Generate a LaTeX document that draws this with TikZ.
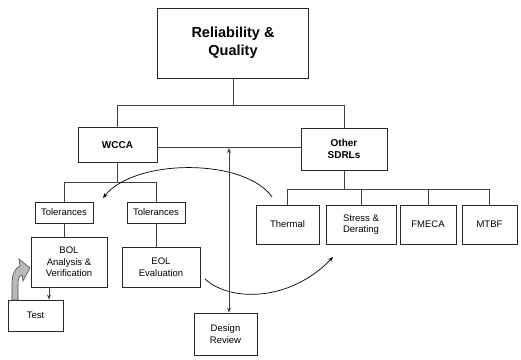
\documentclass[tikz,border=0pt]{standalone}
\usepackage{fontspec}
\setmainfont{Liberation Sans}
\usetikzlibrary{arrows.meta}
\begin{document}
\begin{tikzpicture}[x=1pt,y=-1pt,
 box/.style={draw=black!85, line width=0.8pt, fill=white, inner sep=0pt, align=center, font=\fontsize{9.5}{11.5}\selectfont},
 bbox/.style={box, font=\bfseries\fontsize{10}{12}\selectfont},
 conn/.style={draw=black!75, line width=0.8pt},
 curv/.style={draw=black, line width=0.7pt},
 tip/.style={-{Stealth[length=5pt,width=4pt]}},
 dtip/.style={{Stealth[length=5pt,width=4pt]}-{Stealth[length=5pt,width=4pt]}}
]
\useasboundingbox (0,0) rectangle (521,359);
% nodes
\node[box, font=\bfseries\fontsize{14.5}{18}\selectfont, minimum width=151pt, minimum height=70pt] (rq) at (233,43) {Reliability \&\\Quality};
\node[bbox, minimum width=79pt, minimum height=35pt] (wcca) at (117.5,145) {WCCA};
\node[bbox, minimum width=86pt, minimum height=42pt] (other) at (344,149) {Other\\SDRLs};
\node[box, minimum width=58pt, minimum height=21pt] (tol1) at (64,212.5) {Tolerances};
\node[box, minimum width=58pt, minimum height=21pt] (tol2) at (156,212.5) {Tolerances};
\node[box, minimum width=76pt, minimum height=50pt] (bol) at (69,262) {BOL\\Analysis \&\\Verification};
\node[box, minimum width=78pt, minimum height=40pt] (eol) at (161,267) {EOL\\Evaluation};
\node[box, minimum width=55pt, minimum height=31pt] (test) at (35.5,315.5) {Test};
\node[box, minimum width=63pt, minimum height=42pt] (dr) at (225.5,334) {Design\\Review};
\node[box, minimum width=63pt, minimum height=39pt] (thermal) at (287.5,224.5) {Thermal};
\node[box, minimum width=70pt, minimum height=39pt] (stress) at (361,224.5) {Stress \&\\Derating};
\node[box, minimum width=56pt, minimum height=39pt] (fmeca) at (428,224.5) {FMECA};
\node[box, minimum width=55pt, minimum height=39pt] (mtbf) at (489.5,224.5) {MTBF};
% helper coordinates
\coordinate (ya) at (0,105);
\coordinate (link) at (0,147);
\coordinate (yb) at (0,182);
\coordinate (yc) at (0,189);
\coordinate (tx) at (49,0);
\coordinate (ax) at (229,0);
\coordinate (atop) at (229,148);
% tree connectors
\draw[conn] (rq.south) -- (rq.south |- ya);
\draw[conn] (wcca.north) -- (wcca.north |- ya) -| (other.north);
\draw[conn] (wcca.east |- link) -- (other.west |- link);
\draw[conn] (wcca.south) -- (wcca.south |- yb);
\draw[conn] (tol1.north) |- (tol2.north |- yb) -- (tol2.north);
\draw[conn] (tol1.south) -- (tol1.south |- bol.north);
\draw[conn] (tol2.south) -- (tol2.south |- eol.north);
\draw[conn, tip] (bol.south -| tx) -- (test.north -| tx);
\draw[conn, dtip] (dr.north -| ax) -- (atop);
\draw[conn] (other.south) -- (other.south |- yc);
\draw[conn] (thermal.north) |- (mtbf.north |- yc) -- (mtbf.north);
\draw[conn] (stress.north) -- (stress.north |- yc);
\draw[conn] (fmeca.north) -- (fmeca.north |- yc);
% curved arrows
\coordinate (c1s) at (272,197);
\coordinate (c1e) at (103,198);
\draw[curv, tip] (c1s) .. controls (245,158) and (135,158) .. (c1e);
\coordinate (c2s) at (205,279);
\coordinate (c2e) at (333,257);
\draw[curv, tip] (c2s) .. controls (230,302) and (290,302) .. (c2e);
% gray block arrow from Test to BOL
\filldraw[fill=gray!55, draw=black!70, line width=0.6pt] (12,300) -- (12,284) .. controls (12,274) and (15,268) .. (20,266) -- (19,259) -- (30,268) -- (23,281) -- (22,275) .. controls (19,276) and (18,279) .. (18,285) -- (18,300) -- cycle;
\end{tikzpicture}
\end{document}
